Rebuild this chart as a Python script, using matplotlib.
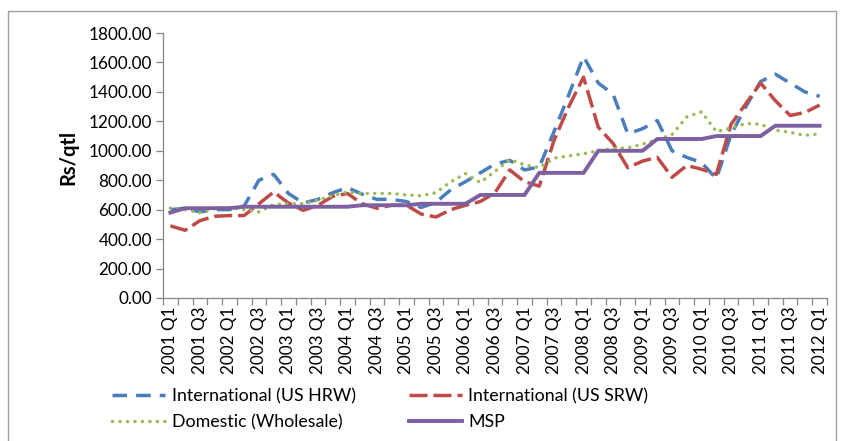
import matplotlib
matplotlib.use("Agg")
import matplotlib.pyplot as plt
from matplotlib.patches import Rectangle

plt.rcParams['font.family'] = ['Lato', 'DejaVu Sans']

years = [str(y) for y in range(2001, 2013)]
quarter_names = ["Q1", "Q2", "Q3", "Q4"]
categories = [f"{y} {q}" for y in years for q in quarter_names][:45]

hrw = [600, 610, 585, 600, 600, 625, 800, 840, 710, 645,
       670, 715, 750, 705, 670, 670, 655, 615, 650, 735,
       790, 850, 910, 935, 870, 890, 1130, 1380, 1640, 1460,
       1385, 1115, 1150, 1205, 1000, 955, 920, 810, 1110, 1300,
       1470, 1520, 1460, 1400, 1370]
srw = [490, 460, 525, 555, 560, 560, 640, 720, 645, 595,
       630, 690, 710, 640, 610, 630, 630, 570, 550, 600,
       630, 655, 715, 870, 790, 760, 1070, 1300, 1500, 1160,
       1050, 885, 930, 955, 820, 900, 875, 840, 1180, 1320,
       1460, 1340, 1240, 1260, 1310]
domestic = [610, 600, 580, 610, 615, 600, 585, 635, 640, 640,
            665, 695, 720, 710, 710, 710, 700, 695, 715, 790,
            845, 785, 860, 940, 905, 885, 950, 965, 980, 1000,
            1015, 1020, 1045, 1075, 1110, 1230, 1265, 1130, 1155, 1185,
            1180, 1140, 1125, 1105, 1115]
msp = [580, 610, 610, 610, 610, 620, 620, 620, 620, 620,
       620, 620, 620, 630, 630, 630, 630, 640, 640, 640,
       640, 700, 700, 700, 700, 850, 850, 850, 850, 1000,
       1000, 1000, 1000, 1080, 1080, 1080, 1080, 1100, 1100, 1100,
       1100, 1170, 1170, 1170, 1170]

series_names = ["International (US HRW)", "International (US SRW)",
                "Domestic (Wholesale)", "MSP"]
yticks = [0, 200, 400, 600, 800, 1000, 1200, 1400, 1600, 1800]

W, H = 842, 441
fig = plt.figure(figsize=(W / 100, H / 100), dpi=100)
ax = fig.add_axes([163 / W, 1 - 298 / H, (827 - 163) / W, (298 - 33) / H])

x = list(range(len(categories)))
lw = 2.5
l_hrw, = ax.plot(x, hrw, color='#4A7EBB', lw=lw, dashes=(4.2, 2.6), dash_capstyle='butt')
l_srw, = ax.plot(x, srw, color='#BE4B48', lw=lw, dashes=(5.2, 1.7), dash_capstyle='butt')
l_dom, = ax.plot(x, domestic, color='#9BBB59', lw=lw, dashes=(0.05, 2.1), dash_capstyle='round')
l_msp, = ax.plot(x, msp, color='#7D60A0', lw=lw + 0.3, solid_joinstyle='miter')

ax.set_xlim(-0.5, len(categories) - 0.5)
ax.set_ylim(0, 1800)
ax.set_yticks(yticks)
ax.set_yticklabels([f"{v:.2f}" for v in yticks])

ax.set_xticks(x[::2])
ax.set_xticklabels(categories[::2], rotation=90)
ax.set_xticks([i - 0.5 for i in range(len(categories) + 1)], minor=True)
ax.tick_params(axis='x', which='major', length=0, pad=6, labelsize=12.3)
ax.tick_params(axis='x', which='minor', length=5, color='#868686', width=0.9)
ax.tick_params(axis='y', length=5, color='#868686', width=0.9, pad=3, labelsize=12.3)

for s in ['top', 'right']:
    ax.spines[s].set_visible(False)
for s in ['left', 'bottom']:
    ax.spines[s].set_color('#868686')
    ax.spines[s].set_linewidth(0.9)

ax.set_ylabel("Rs/qtl", fontsize=14.5, fontweight='bold')
ax.yaxis.set_label_coords(-0.128, 0.53)

handles = [l_hrw, l_dom, l_srw, l_msp]
labels = [series_names[0], series_names[2], series_names[1], series_names[3]]
fig.legend(handles, labels, ncol=2, loc='upper left',
           bbox_to_anchor=(112 / W, 1 - 388 / H), frameon=False,
           fontsize=12.8, handlelength=3.0, handletextpad=0.35,
           columnspacing=3.0, labelspacing=0.55, borderpad=0, borderaxespad=0)

fig.patches.append(Rectangle((8 / W, -0.1), (836 - 8) / W, (H - 11) / H + 0.1,
                             transform=fig.transFigure, fill=False,
                             edgecolor='#A0A0A0', lw=1.0))

fig.savefig("out.png", dpi=100)
